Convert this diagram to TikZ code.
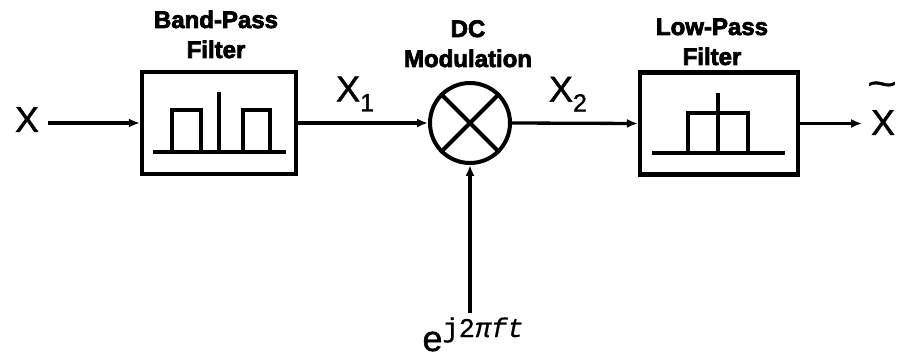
\documentclass[tikz,border=0pt]{standalone}
\usepackage{fontspec}
\setmainfont{Liberation Sans}
\newfontfamily\heavyf[FakeBold=3]{Liberation Sans Bold}
\newfontfamily\medf[FakeBold=1.2]{Liberation Sans}
\newfontfamily\monof[FakeBold=0.6]{Liberation Mono}
\usetikzlibrary{arrows.meta}
\begin{document}
\begin{tikzpicture}[x=1pt,y=-1pt,
  line width=4pt,
  blk/.style={draw,line width=4.2pt,minimum width=154pt,minimum height=102pt,inner sep=0pt},
  ttl/.style={font=\heavyf\fontsize{24}{30}\selectfont,align=center,inner sep=0pt,anchor=base},
  lbl/.style={font=\medf\fontsize{36}{36}\selectfont,inner sep=0pt},
  arr/.style={-{Latex[length=11pt,width=9pt]},line width=3.3pt},
  mixer/.style={draw,circle,line width=4pt,minimum size=80pt,inner sep=0pt}]
\useasboundingbox (0,0) rectangle (899,358);
% nodes
\node[lbl,anchor=base] (x) at (27,132) {X};
\node[blk] (bpf) at (219,123) {};
\node[mixer] (mix) at (470,123) {};
\node[blk,minimum width=158pt] (lpf) at (719,123.5) {};
\node[lbl,anchor=base] (xt) at (883,135) {X};
\node[lbl,anchor=center] (til) at (882,89) {\fontsize{34}{34}\selectfont\scalebox{1.5}[1.1]{\char`~}};
\coordinate (src) at (470,313);
\node[inner sep=0pt,anchor=base] (exp) at (473,351) {\medf\fontsize{36}{38}\selectfont e\raisebox{14pt}{\monof\fontsize{27}{28}\selectfont j2\itshape πft}};
% titles
\node[ttl] (t1) at (216,58) {Band-Pass\\Filter};
\node[ttl] (t2) at (468,67) {DC\\Modulation};
\node[ttl] (t3) at (712,65) {Low-Pass\\Filter};
% mixer cross
\draw (mix.45) -- (mix.225) (mix.135) -- (mix.315);
% connectors
\coordinate (xs) at (48,123);
\draw[arr] (xs) -- (bpf.west);
\draw[arr] (bpf.east) -- node[above=10pt,lbl,xshift=-8pt] (x1) {X\raisebox{-10pt}{\fontsize{25}{26}\selectfont 1}} (mix.west);
\draw[arr] (mix.east) -- node[above=10pt,lbl,xshift=-7pt] (x2) {X\raisebox{-10pt}{\fontsize{25}{26}\selectfont 2}} (lpf.west);
\coordinate (xe) at (862,123.5);
\draw[arr] (lpf.east) -- (xe);
\draw[arr] (src) -- (mix.south);
% band-pass spectrum
\draw (153,152) -- (286,152);
\draw (172,152) -- (172,110) -- (201,110) -- (201,152);
\draw (243,152) -- (243,110) -- (270,110) -- (270,152);
\draw (219,152) -- (219,92);
% low-pass spectrum
\draw (652,153) -- (785,153);
\draw (688,153) -- (688,113) -- (748,113) -- (748,153);
\draw (718,153) -- (718,93);
\end{tikzpicture}
\end{document}
